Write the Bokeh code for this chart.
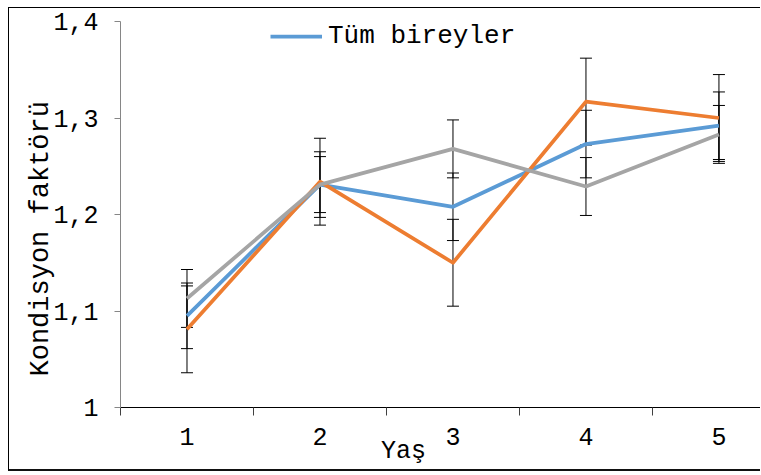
import math
from bokeh.plotting import figure
from bokeh.models import (FixedTicker, CustomJSTickFormatter, Whisker, TeeHead,
                          ColumnDataSource, Legend, LegendItem)
from bokeh.embed import file_html
from bokeh.resources import INLINE

# ---- data ----
ages = [1, 2, 3, 4, 5]
age_labels = ["1", "2", "3", "4", "5"]

tum_bireyler = [1.095, 1.231, 1.208, 1.273, 1.292]
tum_err = [0.034, 0.034, 0.035, 0.035, 0.035]

seri_turuncu = [1.081, 1.234, 1.150, 1.317, 1.300]
turuncu_err = [0.045, 0.045, 0.045, 0.045, 0.045]

seri_gri = [1.113, 1.231, 1.268, 1.229, 1.283]
gri_err = [0.030, 0.029, 0.030, 0.030, 0.030]

y_ticks = [1.0, 1.1, 1.2, 1.3, 1.4]
x_minor = [0.5, 1.5, 2.5, 3.5, 4.5]

x_title = "Yaş"
y_title = "Kondisyon faktörü"
legend_label = "Tüm bireyler"

BLUE = "#5B9BD5"
ORANGE = "#ED7D31"
GRAY = "#A5A5A5"
FONT = "Liberation Mono"
NBSP = "\u00a0"

W, H = 752, 464
p = figure(width=W, height=H, x_range=(0.5, 5.32), y_range=(1.0, 1.4),
           output_backend="svg", toolbar_location=None,
           min_border_left=111, min_border_right=0, min_border_top=13,
           min_border_bottom=65)
p.title.visible = False
p.outline_line_color = None
p.xgrid.visible = False
p.ygrid.visible = False
p.styles = {"margin-left": "8px", "margin-top": "7px",
            "border-left": "1px solid #000", "border-top": "1px solid #000",
            "border-bottom": "2px solid #111"}

# y axis
p.yaxis.ticker = FixedTicker(ticks=y_ticks)
p.yaxis.formatter = CustomJSTickFormatter(
    code="return tick.toFixed(1).replace('.', ',').replace(',0', '')")
p.yaxis.axis_line_color = "#868686"
p.yaxis.major_tick_line_color = "#868686"
p.yaxis.major_tick_out = 6
p.yaxis.major_tick_in = 0
p.yaxis.minor_tick_line_color = None
p.yaxis.major_label_standoff = 16
p.yaxis.major_label_text_font = FONT
p.yaxis.major_label_text_font_size = "25px"
p.yaxis.major_label_text_color = "#000000"
# trailing no-break spaces nudge the (frame-centred) title down as in the reference
p.yaxis.axis_label = y_title + NBSP * 3
p.yaxis.axis_label_text_font = FONT
p.yaxis.axis_label_text_font_size = "27px"
p.yaxis.axis_label_text_font_style = "normal"
p.yaxis.axis_label_text_color = "#000000"
p.yaxis.axis_label_standoff = -6

# x axis
p.xaxis.ticker = FixedTicker(ticks=ages, minor_ticks=x_minor)
p.xaxis.major_label_overrides = {a: l for a, l in zip(ages, age_labels)}
p.xaxis.axis_line_color = "#000000"
p.xaxis.major_tick_line_color = None
p.xaxis.minor_tick_line_color = "#404040"
p.xaxis.minor_tick_out = 8
p.xaxis.minor_tick_in = 0
p.xaxis.major_label_standoff = 12
p.xaxis.major_label_text_font = FONT
p.xaxis.major_label_text_font_size = "25px"
p.xaxis.major_label_text_color = "#000000"
# trailing no-break spaces nudge the (frame-centred) title left as in the reference
p.xaxis.axis_label = x_title + NBSP * 5
p.xaxis.axis_label_text_font = FONT
p.xaxis.axis_label_text_font_size = "25px"
p.xaxis.axis_label_text_font_style = "normal"
p.xaxis.axis_label_text_color = "#000000"
p.xaxis.axis_label_standoff = -11

# error bars (under the lines)
for vals, errs in [(tum_bireyler, tum_err), (seri_turuncu, turuncu_err), (seri_gri, gri_err)]:
    src = ColumnDataSource(dict(
        x=ages,
        upper=[v + e for v, e in zip(vals, errs)],
        lower=[v - e for v, e in zip(vals, errs)]))
    w = Whisker(base="x", upper="upper", lower="lower", source=src,
                line_color="black", line_width=1, level="underlay",
                upper_head=TeeHead(size=12, line_color="black", line_width=1),
                lower_head=TeeHead(size=12, line_color="black", line_width=1))
    p.add_layout(w)

r_blue = p.line(ages, tum_bireyler, line_color=BLUE, line_width=3.75, line_join="round")
r_orange = p.line(ages, seri_turuncu, line_color=ORANGE, line_width=3.75, line_join="round")
r_gray = p.line(ages, seri_gri, line_color=GRAY, line_width=3.75, line_join="round")

legend = Legend(items=[LegendItem(label=legend_label, renderers=[r_blue])],
                location=(150, 356), orientation="horizontal",
                border_line_color=None, background_fill_alpha=0,
                padding=0, margin=0, spacing=0,
                glyph_width=52, glyph_height=20, label_standoff=6,
                label_text_font=FONT, label_text_font_size="26px",
                label_text_color="#000000")
p.add_layout(legend)

open("out.html", "w").write(file_html(p, INLINE))
